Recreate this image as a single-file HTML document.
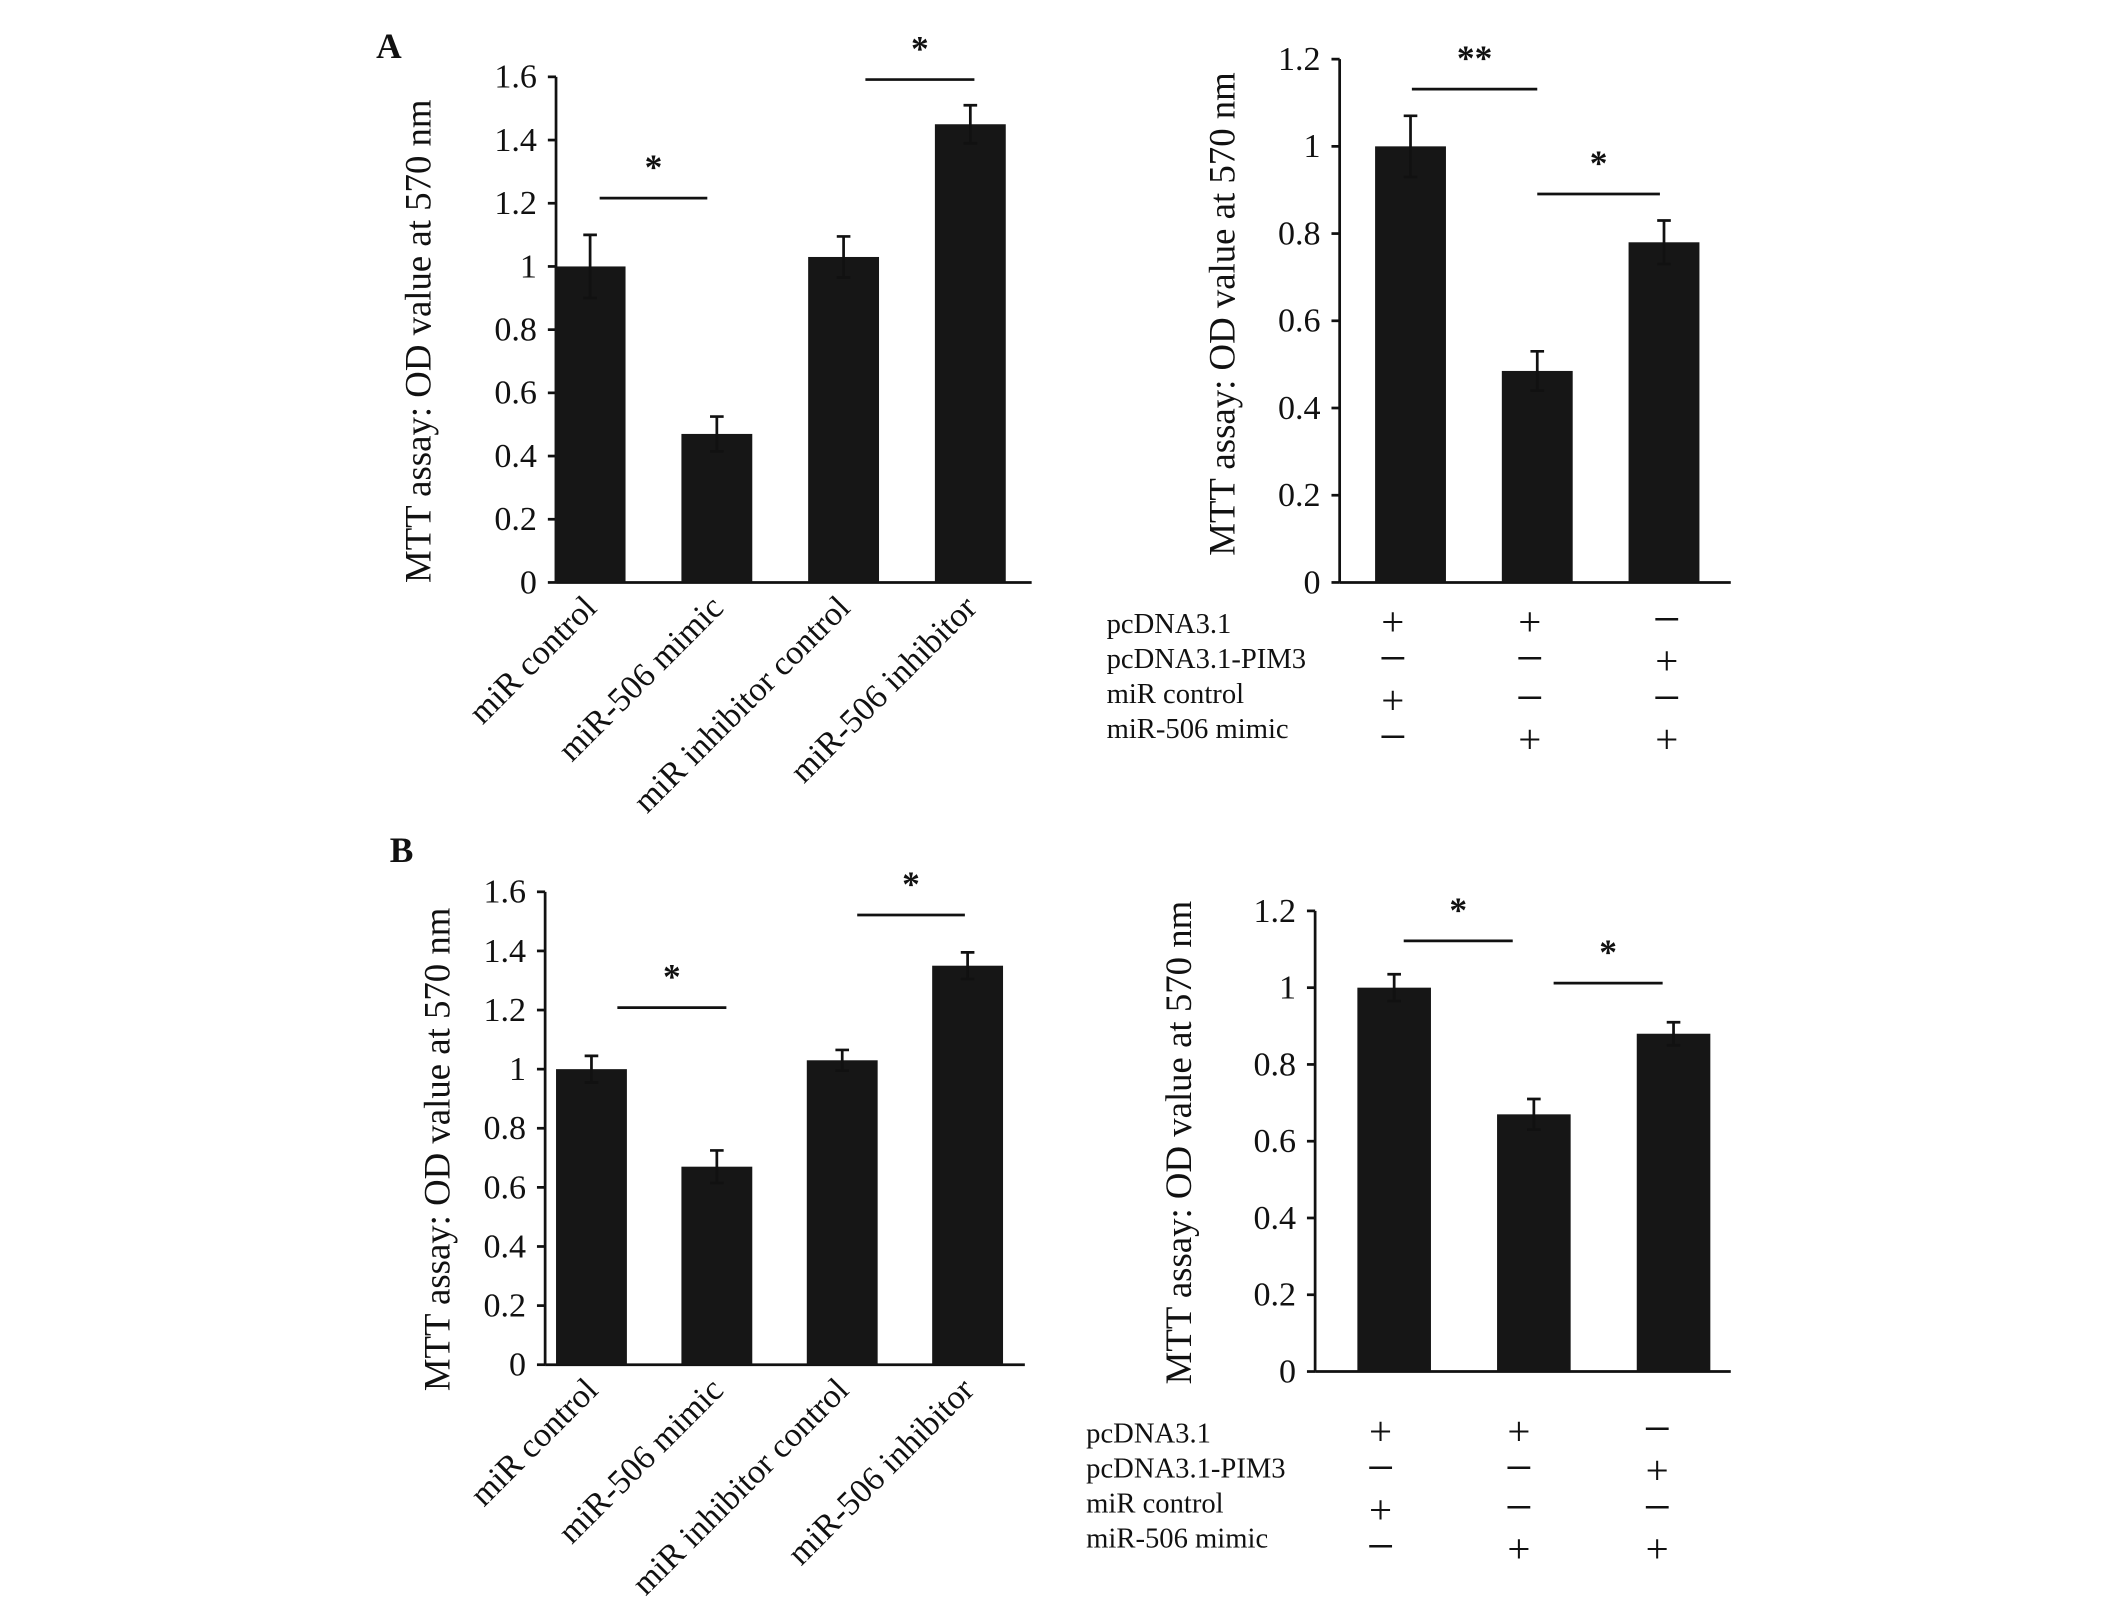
<!DOCTYPE html>
<html><head><meta charset="utf-8"><style>
html,body{margin:0;padding:0;background:#fff}
svg{display:block}
text{font-family:"Liberation Serif",serif;fill:#111}
</style></head><body>
<svg id="fig" width="2126" height="1616" viewBox="0 0 1560 1185" xmlns="http://www.w3.org/2000/svg">
<text x="276" y="42" font-size="26" font-weight="bold">A</text>
<text x="286" y="632" font-size="26" font-weight="bold">B</text>
</svg>
<script>
const catsLeft = ["miR control","miR-506 mimic","miR inhibitor control","miR-506 inhibitor"];
const aLeftVals = [1.0, 0.47, 1.03, 1.45];
const aLeftErr = [0.10, 0.055, 0.065, 0.06];
const aRightVals = [1.0, 0.485, 0.78];
const aRightErr = [0.07, 0.045, 0.05];
const bLeftVals = [1.0, 0.67, 1.03, 1.35];
const bLeftErr = [0.045, 0.055, 0.035, 0.045];
const bRightVals = [1.0, 0.67, 0.88];
const bRightErr = [0.035, 0.04, 0.03];
const ticksLeft = ["0","0.2","0.4","0.6","0.8","1","1.2","1.4","1.6"];
const ticksRight = ["0","0.2","0.4","0.6","0.8","1","1.2"];
const tableRows = ["pcDNA3.1","pcDNA3.1-PIM3","miR control","miR-506 mimic"];
const tableSigns = [["+","+","−"],["−","−","+"],["+","−","−"],["−","+","+"]];

const NS="http://www.w3.org/2000/svg";
const svg=document.getElementById('fig');
function mk(tag,attrs,parent){const e=document.createElementNS(NS,tag);for(const k in attrs)e.setAttribute(k,attrs[k]);(parent||svg).appendChild(e);return e;}

function panel(p){
  const g=mk('g',{});
  
  
  const y=v=>p.y0-(v/p.ymax)*(p.y0-p.ytop);
  const cx=i=>p.c0+p.step*i;
  const ya=mk('line',{x1:p.x0,y1:p.ytop,x2:p.x0,y2:p.y0,stroke:'#111','stroke-width':2},g);
  
  
  const xa=mk('line',{x1:p.x0,y1:p.y0,x2:p.xend,y2:p.y0,stroke:'#111','stroke-width':2},g);
  
  
  p.ticks.forEach(t=>{
    const ty=y(parseFloat(t));
    mk('line',{x1:p.x0-6,y1:ty,x2:p.x0,y2:ty,stroke:'#111','stroke-width':2},g);
    const tl=mk('text',{x:p.x0-14,y:ty+8,'font-size':25,'text-anchor':'end'},g);
    tl.textContent=t;
    
    
  });
  const tt=mk('text',{x:0,y:0,'font-size':27,'text-anchor':'middle',transform:`translate(${p.titleX},${p.titleY}) rotate(-90)`},g);
  tt.textContent="MTT assay: OD value at 570 nm";
  
  
  p.vals.forEach((v,i)=>{
    const b=mk('rect',{x:cx(i)-p.bw/2,y:y(v),width:p.bw,height:p.y0-y(v),fill:'#161616'},g);
    
    
    const e=p.err[i];
    const eg=mk('path',{d:`M${cx(i)},${y(v+e)}V${y(v-e)}M${cx(i)-5},${y(v+e)}H${cx(i)+5}M${cx(i)-5},${y(v-e)}H${cx(i)+5}`,stroke:'#111','stroke-width':2,fill:'none'},g);
    
    
  });
  p.sig.forEach(s=>{
    const l=mk('line',{x1:s[0],y1:s[2],x2:s[1],y2:s[2],stroke:'#111','stroke-width':2},g);
    
    
    const st=mk('text',{x:(s[0]+s[1])/2,y:s[2]-14,'font-size':26,'font-weight':'bold','text-anchor':'middle'},g);
    st.textContent=s[3];
    
    
  });
  if(p.cats){
    p.cats.forEach((c,i)=>{
      const t=mk('text',{x:0,y:0,'font-size':25,'text-anchor':'end',transform:`translate(${cx(i)+6},${p.y0+20}) rotate(-45)`},g);
      t.textContent=c;
      
      
    });
  }
  if(p.table){
    tableRows.forEach((r,ri)=>{
      const t=mk('text',{x:p.tabX,y:p.tabY+ri*25.7,'font-size':21},g);
      t.textContent=r;
      
      
      tableSigns[ri].forEach((s,ci)=>{
        const m=mk('text',{x:p.s0+p.sstep*ci,y:p.tabY+2+ri*28.7,'font-size':s==='+'?30:36,'text-anchor':'middle'},g);
        m.textContent=s;
        
        
      });
    });
  }
}
panel({name:'panel-a-left',x0:408,xend:757,y0:427,ytop:56,ymax:1.6,vals:aLeftVals,err:aLeftErr,ticks:ticksLeft,bw:52,c0:433,step:93,titleX:316,titleY:250,cats:catsLeft,
  sig:[[440,519,145,"*"],[635,715,58,"*"]]});
panel({name:'panel-a-right',x0:983,xend:1270,y0:427,ytop:43,ymax:1.2,vals:aRightVals,err:aRightErr,ticks:ticksRight,bw:52,c0:1035,step:93,titleX:906,titleY:230,table:true,tabX:812,tabY:464,s0:1022,sstep:100.5,
  sig:[[1036,1128,65,"**"],[1128,1218,142,"*"]]});
panel({name:'panel-b-left',x0:400,xend:752,y0:1001,ytop:654,ymax:1.6,vals:bLeftVals,err:bLeftErr,ticks:ticksLeft,bw:52,c0:434,step:92,titleX:330,titleY:843,cats:catsLeft,
  sig:[[453,533,739,"*"],[629,708,671,"*"]]});
panel({name:'panel-b-right',x0:965,xend:1270,y0:1006,ytop:668,ymax:1.2,vals:bRightVals,err:bRightErr,ticks:ticksRight,bw:54,c0:1023,step:102.5,titleX:874,titleY:838,table:true,tabX:797,tabY:1058,s0:1013,sstep:101.5,
  sig:[[1030,1110,690,"*"],[1140,1220,721,"*"]]});
</script>
</body></html>
